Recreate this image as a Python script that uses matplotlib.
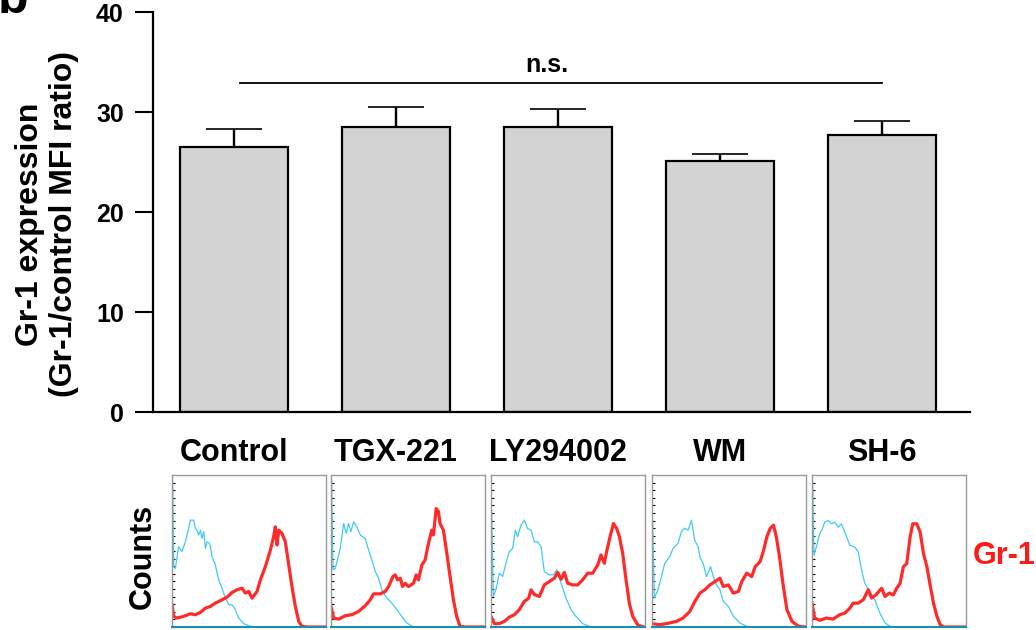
import numpy as np
import matplotlib
matplotlib.use("Agg")
import matplotlib.pyplot as plt

plt.rcParams['font.family'] = ['Liberation Sans', 'DejaVu Sans']
plt.rcParams['font.weight'] = 'bold'

groups = ['Control', 'TGX-221', 'LY294002', 'WM', 'SH-6']
means = [26.5, 28.5, 28.5, 25.1, 27.7]
sems = [1.8, 2.0, 1.8, 0.7, 1.4]
ns_level = 32.9
yticks = [0, 10, 20, 30, 40]

# histograms, x = channel (0-100), y = % of panel height
blue_1 = [(0.4, 96.5), (1.1, 39.7), (2.2, 38.6), (4.3, 52.8), (6.5, 49.6), (8.7, 56.1), (10.8, 64.8),
          (11.9, 70.3), (14.1, 70.3), (15.2, 64.8), (16.2, 63.7), (17.3, 60.5), (18.4, 63.7), (19.5, 58.3),
          (20.6, 62.7), (21.7, 51.7), (22.7, 56.1), (24.5, 55.0), (26.0, 46.3), (28.1, 40.8), (30.3, 31.0),
          (32.5, 25.5), (34.6, 19.0), (37.0, 14.6), (39.0, 14.6), (41.1, 11.4), (43.3, 5.9), (46.5, 2.2),
          (50.9, 0.4), (57.4, 0), (100, 0)]
red_1 = [(0, 14.6), (1.1, 7.0), (3.2, 5.9), (7.6, 7.0), (11.9, 8.7), (15.2, 8.1), (18.4, 9.6), (21.7, 12.4),
         (24.9, 13.5), (28.1, 15.7), (32.5, 17.9), (35.7, 19.6), (39.0, 22.7), (42.2, 24.5), (45.5, 25.5),
         (47.6, 22.3), (49.8, 23.4), (52.0, 19.0), (55.2, 23.4), (57.4, 31.0), (60.6, 39.7), (63.9, 50.6),
         (66.0, 59.4), (67.1, 65.9), (68.2, 53.9), (69.3, 63.7), (71.4, 61.6), (73.6, 56.1), (75.8, 40.8),
         (77.9, 26.6), (80.1, 13.5), (82.3, 3.7), (84.4, 0.4), (87.7, 0), (100, 0)]
blue_2 = [(0.4, 96.5), (1.3, 37.6), (2.8, 38.6), (6.0, 51.7), (8.2, 68.1), (9.9, 61.6), (11.4, 68.1),
          (12.9, 62.7), (14.7, 69.2), (16.8, 65.9), (19.0, 60.5), (22.2, 58.3), (24.4, 50.6), (26.6, 44.1),
          (28.7, 36.5), (30.9, 32.1), (33.0, 24.5), (36.3, 19.0), (39.5, 15.7), (42.8, 11.4), (46.0, 7.0),
          (49.2, 2.6), (53.6, 0), (100, 0)]
red_2 = [(0, 13.5), (1.7, 5.9), (5.0, 5.2), (9.3, 7.4), (13.6, 8.1), (18.0, 10.3), (22.2, 14.0), (25.5, 17.9),
         (27.6, 21.8), (32.0, 21.8), (35.2, 23.4), (37.4, 26.6), (40.2, 33.2), (41.7, 34.3), (43.2, 31.0),
         (45.0, 32.1), (46.4, 26.6), (48.2, 28.8), (50.3, 26.6), (53.6, 28.8), (55.3, 34.3), (56.8, 31.0),
         (59.0, 40.8), (61.1, 44.1), (63.3, 55.0), (65.4, 63.7), (66.5, 60.5), (68.3, 77.9), (69.8, 75.8),
         (70.8, 68.1), (73.0, 63.7), (75.2, 48.5), (77.3, 33.2), (79.5, 17.9), (81.6, 7.0), (83.8, 0.4),
         (87.0, 0), (100, 0)]
blue_3 = [(0.4, 76.9), (1.5, 20.1), (3.2, 24.5), (5.4, 35.4), (7.6, 33.2), (9.7, 41.9), (11.9, 49.6),
          (14.1, 51.7), (15.8, 63.7), (17.3, 59.4), (19.5, 67.0), (21.6, 70.3), (23.8, 64.8), (26.0, 63.7),
          (28.1, 56.1), (30.3, 56.1), (32.5, 52.8), (34.6, 36.5), (37.9, 34.3), (40.5, 34.3), (42.7, 37.6),
          (45.5, 28.8), (48.7, 19.0), (52.0, 11.4), (55.2, 7.0), (59.5, 2.2), (63.9, 0.4), (68.2, 0), (100, 0)]
red_3 = [(0, 7.0), (2.2, 2.2), (5.4, 2.2), (8.7, 3.7), (11.9, 6.5), (15.2, 8.1), (18.4, 11.4), (21.6, 16.8),
         (24.5, 19.0), (26.0, 24.5), (28.1, 21.4), (31.4, 20.1), (34.6, 27.7), (37.9, 29.9), (41.1, 32.1),
         (43.3, 35.9), (45.5, 31.4), (47.6, 35.9), (49.8, 28.8), (53.0, 27.7), (56.3, 27.7), (59.5, 31.0),
         (62.8, 35.4), (66.0, 35.4), (69.3, 40.8), (71.4, 47.4), (73.6, 41.9), (75.1, 49.6), (77.3, 59.4),
         (79.5, 68.1), (81.6, 64.8), (83.4, 59.4), (85.5, 48.5), (87.7, 31.0), (89.8, 15.7), (92.0, 7.0),
         (95.2, 1.5), (98.5, 0), (100, 0)]
blue_4 = [(0.4, 70.3), (1.5, 19.0), (3.9, 24.5), (6.1, 33.2), (8.3, 41.9), (11.5, 46.3), (13.7, 51.7),
          (16.9, 55.0), (19.1, 62.7), (21.2, 65.0), (23.4, 63.7), (25.6, 70.3), (27.7, 57.2), (29.9, 52.8),
          (31.4, 45.2), (33.2, 41.9), (35.4, 33.2), (38.0, 39.7), (39.8, 33.2), (41.9, 27.7), (44.1, 24.5),
          (46.3, 16.8), (49.6, 13.5), (52.8, 7.0), (57.2, 2.6), (61.5, 0.4), (65.9, 0), (100, 0)]
red_4 = [(0, 2.2), (5.0, 1.5), (9.3, 2.2), (15.9, 3.7), (20.2, 5.9), (24.6, 10.3), (27.8, 16.8), (31.1, 22.3),
         (34.3, 24.5), (37.6, 27.7), (40.9, 29.9), (44.1, 32.1), (46.3, 26.6), (49.6, 27.7), (52.8, 22.3),
         (56.1, 23.4), (58.3, 29.9), (61.5, 35.4), (64.8, 33.2), (67.0, 39.7), (70.2, 43.0), (72.4, 50.2),
         (74.6, 59.4), (76.7, 64.8), (78.9, 67.0), (80.7, 59.4), (82.8, 46.3), (85.0, 28.8), (87.6, 11.4),
         (90.9, 3.7), (95.2, 0.4), (100, 0)]
blue_5 = [(0.4, 96.1), (1.3, 47.2), (2.8, 52.6), (5.0, 61.3), (6.7, 64.6), (8.3, 69.0), (10.4, 70.1),
          (12.6, 67.9), (14.8, 69.0), (17.0, 65.7), (19.1, 67.9), (21.3, 62.5), (24.6, 53.7), (27.8, 52.6),
          (30.0, 49.4), (32.2, 37.4), (34.3, 28.7), (37.6, 23.3), (40.9, 17.8), (44.1, 9.1), (47.4, 2.6),
          (50.7, 0.4), (55.0, 0), (100, 0)]
red_5 = [(0, 15.7), (1.7, 5.9), (5.0, 4.4), (9.3, 5.9), (13.7, 5.2), (18.0, 8.1), (21.3, 9.1), (24.6, 12.4),
         (26.7, 15.7), (30.0, 15.7), (33.3, 17.9), (36.5, 24.5), (38.7, 19.0), (41.5, 21.1), (45.2, 25.5),
         (47.4, 20.1), (50.2, 22.3), (52.8, 21.1), (55.0, 25.5), (57.2, 28.7), (59.3, 39.6), (61.5, 41.7),
         (63.7, 59.2), (65.4, 67.9), (68.0, 67.9), (70.2, 62.5), (72.4, 48.3), (74.6, 39.6), (76.7, 27.6),
         (78.9, 15.7), (81.1, 7.0), (83.3, 1.5), (85.4, 0), (100, 0)]

blues = [blue_1, blue_2, blue_3, blue_4, blue_5]
reds = [red_1, red_2, red_3, red_4, red_5]

W, H = 1036, 630
fig = plt.figure(figsize=(W / 100, H / 100), dpi=100)

# main bar chart, placed in pixel units
ax = fig.add_axes([153 / W, (H - 412) / H, 817 / W, 400 / H])
x = np.arange(len(groups))
ax.errorbar(x, means, yerr=[np.zeros(len(sems)), sems], fmt='none', ecolor='black',
            elinewidth=1.7, capsize=20, capthick=1.2, zorder=1)
ax.bar(x, means, width=0.667, color='#d3d3d3', edgecolor='black', linewidth=1.6, zorder=2)

ax.plot([x[0] + 0.04, x[-1]], [ns_level, ns_level], color='black', lw=1.3)
ax.text(1.93, 34.0, 'n.s.', ha='center', va='baseline', fontsize=18, fontweight='bold')

ax.set_xlim(-0.5, 4.543)
ax.set_ylim(0, 40)
ax.set_yticks(yticks)
ax.tick_params(axis='y', length=13, width=1.5, labelsize=18, pad=8)
ax.set_xticks(x)
ax.set_xticklabels(groups, fontsize=22, fontweight='bold')
ax.tick_params(axis='x', length=0, pad=19)
for s in ['top', 'right']:
    ax.spines[s].set_visible(False)
for s in ['left', 'bottom']:
    ax.spines[s].set_linewidth(1.6)
ax.spines['left'].set_bounds(0, 40)

fig.text(47 / W, 1 - 224 / H, 'Gr-1 expression\n(Gr-1/control MFI ratio)', rotation=90,
         ha='center', va='center', fontsize=23, fontweight='bold', linespacing=1.2,
         multialignment='center')
fig.text(-2 / W, 1 - 13 / H, 'b', ha='left', va='baseline', fontsize=36, fontweight='bold')

# flow histograms
lefts = [172, 331, 491, 652, 812]
for i in range(5):
    pa = fig.add_axes([lefts[i] / W, (H - 627) / H, 154 / W, 152 / H])
    b = np.array(blues[i])
    r = np.array(reds[i])
    pa.plot(b[:, 0], b[:, 1], color='#3fcaf5', lw=0.9)
    pa.plot(r[:, 0], r[:, 1], color='#ff2a2a', lw=2.3)
    pa.set_xlim(0, 100)
    pa.set_ylim(0, 100)
    pa.set_xticks([])
    pa.set_yticks(np.linspace(0, 95, 20))
    pa.set_yticklabels([])
    pa.tick_params(axis='y', direction='in', length=2.5, width=0.8, color='black')
    for s in ['top', 'right', 'left']:
        pa.spines[s].set_color('#999999')
        pa.spines[s].set_linewidth(1.0)
    pa.spines['bottom'].set_color('#1a8fb0')
    pa.spines['bottom'].set_linewidth(1.5)

fig.text(143 / W, 1 - 556 / H, 'Counts', rotation=90, ha='center', va='center',
         fontsize=22, fontweight='bold')
fig.text(973 / W, 1 - 556 / H, 'Gr-1', ha='left', va='center', fontsize=22,
         fontweight='bold', color='#ff1a1a')

fig.savefig('out.png', dpi=100)
